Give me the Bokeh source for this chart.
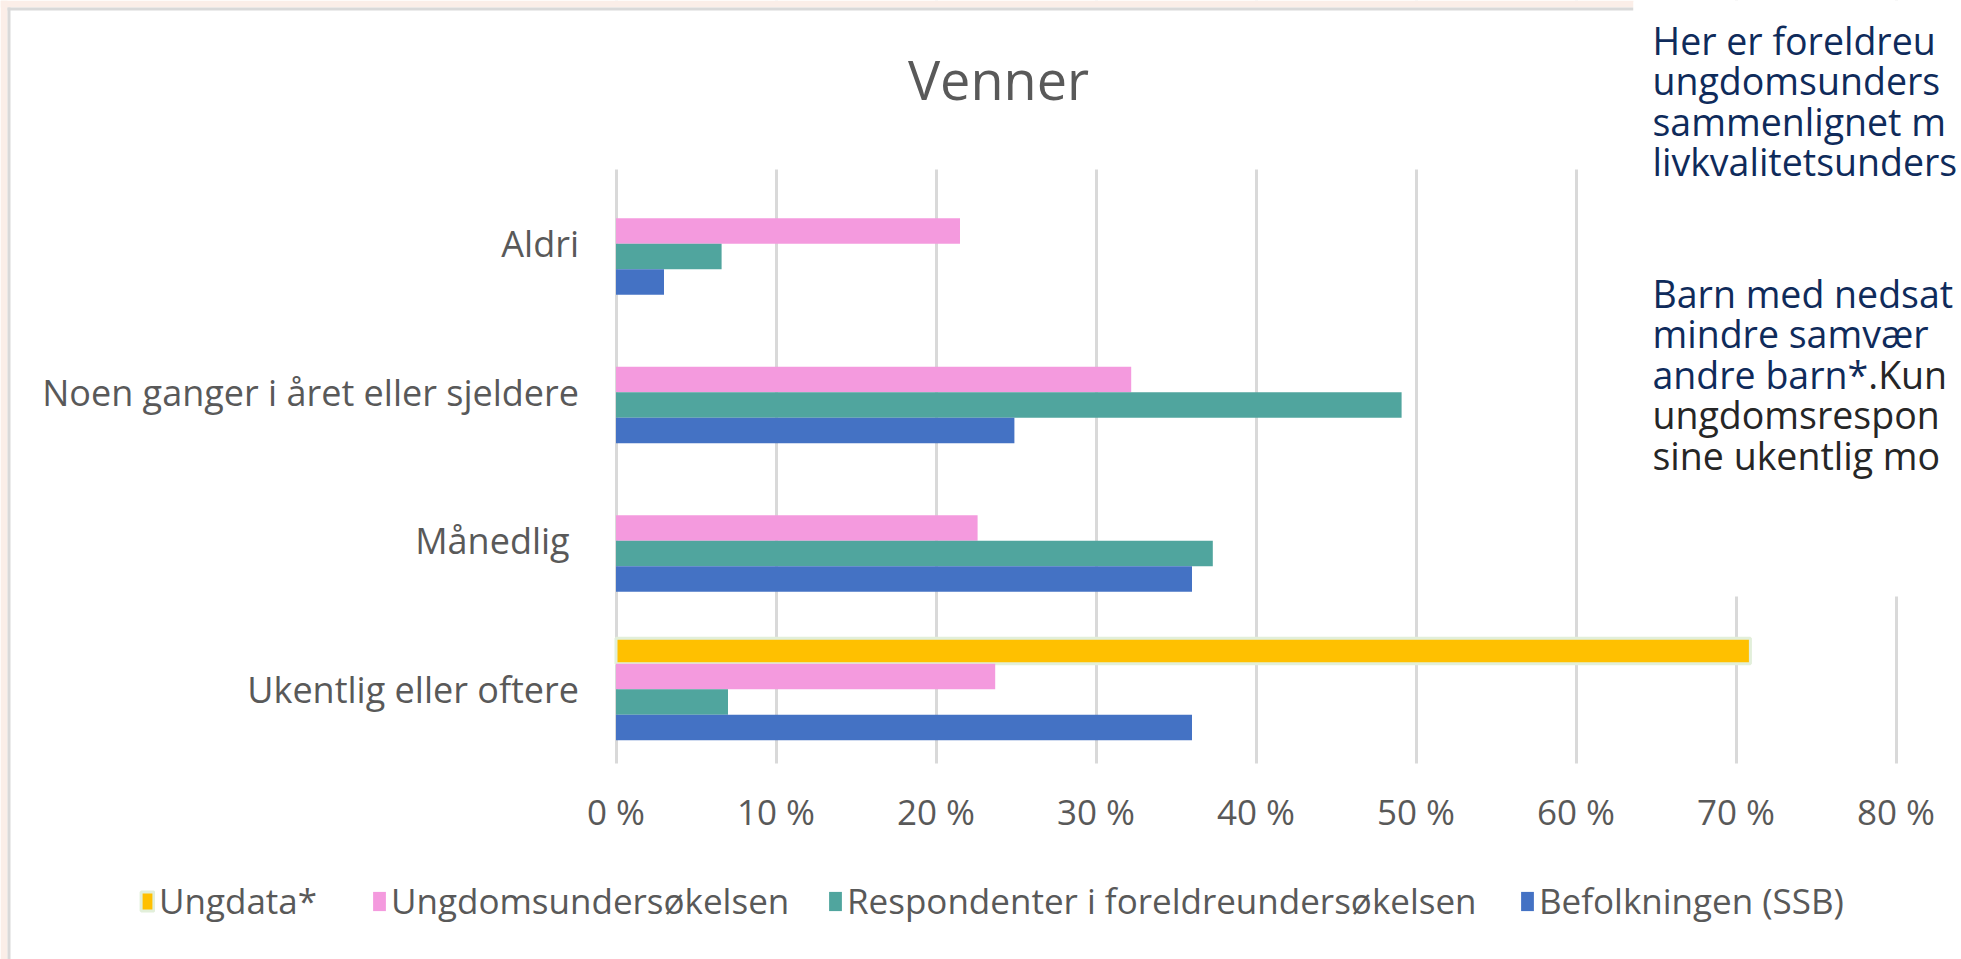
import numpy as np
from bokeh.plotting import figure
from bokeh.models import (ColumnDataSource, Range1d, Label, Legend, LegendItem,
                          FixedTicker, PrintfTickFormatter)
from bokeh.embed import file_html
from bokeh.resources import INLINE

# ---------------- data ----------------
categories = ["Aldri", "Noen ganger i året eller sjeldere", "Månedlig\u00a0", "Ukentlig eller oftere"]
series_names = ["Ungdata*", "Ungdomsundersøkelsen",
                "Respondenter i foreldreundersøkelsen", "Befolkningen (SSB)"]
ungdata = [None, None, None, 70.9]
ungdomsundersokelsen = [21.5, 32.2, 22.6, 23.7]
foreldreundersokelsen = [6.6, 49.1, 37.3, 7.0]
befolkningen_ssb = [3.0, 24.9, 36.0, 36.0]
x_ticks = [0, 10, 20, 30, 40, 50, 60, 70, 80]
chart_title = "Venner"
note_navy = ["Her er foreldreu", "ungdomsunders", "sammenlignet m", "livkvalitetsunders",
             "Barn med nedsat", "mindre samvær", "andre barn*"]
note_dark = [".Kun", "ungdomsrespon", "sine ukentlig mo"]

# ---------------- layout constants (pixels of the canvas) ----------------
W, H = 1961, 959
FL, FR, FT, FB = 615.5, 1895.5, 169, 763      # plot area
XMAX = 80.0
NCAT = len(categories)
PX_PER_X = (FR - FL) / XMAX
PX_PER_Y = (FB - FT) / NCAT

def sx(px):
    return (px - FL) / PX_PER_X

def sy(py):
    return (FB - py) / PX_PER_Y

FONT = "Open Sans"
GRAY = "#595959"
NAVY = "#0F2B5B"
DARK = "#262626"
GRID = "#D9D9D9"

p = figure(width=W, height=H, output_backend="svg", toolbar_location=None,
           x_range=Range1d(sx(0), sx(W)), y_range=Range1d(sy(H), sy(0)),
           min_border=0)
p.outline_line_color = None
p.background_fill_color = "white"
p.border_fill_color = "white"

# category positions (top to bottom) on the value scale of the y axis
y_centers = [NCAT - 0.5 - i for i in range(NCAT)]

# axes drawn at the plot-area edges
p.xaxis.ticker = FixedTicker(ticks=x_ticks)
p.xaxis.formatter = PrintfTickFormatter(format="%d %%")
p.xaxis.fixed_location = 0
p.yaxis.ticker = FixedTicker(ticks=y_centers)
p.yaxis.major_label_overrides = {c: lab for c, lab in zip(y_centers, categories)}
p.yaxis.fixed_location = 0
for ax in (p.xaxis[0], p.yaxis[0]):
    ax.axis_line_color = None
    ax.major_tick_line_color = None
    ax.minor_tick_line_color = None
    ax.major_tick_out = 0
    ax.major_tick_in = 0
    ax.major_label_text_font = FONT
    ax.major_label_text_color = GRAY
p.xaxis.major_label_text_font_size = "35px"
p.yaxis.major_label_text_font_size = "36px"
p.xaxis.major_label_standoff = 24
p.yaxis.major_label_standoff = 37

p.xgrid.grid_line_color = GRID
p.xgrid.grid_line_width = 3
p.ygrid.grid_line_color = None

# white masks so that grid lines stay inside the plot area
p.quad(left=sx(0), right=sx(W), bottom=sy(FT), top=sy(0), fill_color="white", line_color=None)
p.quad(left=sx(0), right=sx(W), bottom=sy(H), top=sy(FB), fill_color="white", line_color=None)

# page edge and chart border
PINK = "#FBEEE8"
p.quad(left=[sx(0), sx(0)], right=[sx(7), sx(1633)], bottom=[sy(H), sy(7)], top=[sy(0), sy(0)],
       fill_color=PINK, line_color=None)
p.quad(left=[sx(7), sx(7)], right=[sx(10), sx(1633)], bottom=[sy(H), sy(10)], top=[sy(7), sy(7)],
       fill_color=GRID, line_color=None)

# bars
series_values = [ungdata, ungdomsundersokelsen, foreldreundersokelsen, befolkningen_ssb]
colors = ["#FFC000", "#F49ADE", "#50A59E", "#4472C4"]
offsets = [0.258, 0.086, -0.086, -0.258]
bar_h = 0.172
renderers = []
for name, vals, col, off in zip(series_names, series_values, colors, offsets):
    v = np.array([np.nan if x is None else x for x in vals], dtype=float)
    src = ColumnDataSource(dict(y=[c + off for c in y_centers], v=v, cat=categories))
    if name == "Ungdata*":
        r = p.hbar(y="y", right="v", left=0, height=bar_h, source=src,
                   fill_color=col, line_color="#E2EFDA", line_width=3)
    else:
        r = p.hbar(y="y", right="v", left=0, height=bar_h, source=src,
                   fill_color=col, line_color=None)
    renderers.append(r)

# white text box over the upper right of the chart
p.quad(left=sx(1633), right=sx(W), bottom=sy(596), top=sy(1),
       fill_color="white", line_color=None)

# legend (one entry per series, laid out in a row under the axis)
legend_x = [139, 371, 827, 1519]
for name, r, lx in zip(series_names, renderers, legend_x):
    lg = Legend(items=[LegendItem(label=name, renderers=[r])], orientation="horizontal",
                location=(lx, 35),
                label_text_font=FONT, label_text_font_size="35px", label_text_color=GRAY,
                glyph_width=16, glyph_height=24, label_standoff=4,
                padding=0, margin=0, border_line_color=None, background_fill_alpha=0)
    p.add_layout(lg)

# title
p.add_layout(Label(x=sx(998), y=sy(78), text=chart_title, text_align="center",
                   text_baseline="alphabetic", text_font=FONT, text_font_size="54px",
                   text_color=GRAY))

# text box lines
baselines = [40, 80, 121, 161, 293, 333, 374, 414, 455]
TX = 1652
TSIZE = 37.5
for i, t in enumerate(note_navy):
    p.add_layout(Label(x=sx(TX), y=sy(baselines[i]), text=t, text_align="left",
                       text_baseline="alphabetic", text_font=FONT,
                       text_font_size=f"{TSIZE}px", text_color=NAVY))
andre_w = 5.754 * TSIZE
p.add_layout(Label(x=sx(TX + andre_w), y=sy(baselines[6]), text=note_dark[0], text_align="left",
                   text_baseline="alphabetic", text_font=FONT,
                   text_font_size=f"{TSIZE}px", text_color=DARK))
for i, t in enumerate(note_dark[1:]):
    p.add_layout(Label(x=sx(TX), y=sy(baselines[7 + i]), text=t, text_align="left",
                       text_baseline="alphabetic", text_font=FONT,
                       text_font_size=f"{TSIZE}px", text_color=DARK))

open("out.html", "w").write(file_html(p, INLINE))
